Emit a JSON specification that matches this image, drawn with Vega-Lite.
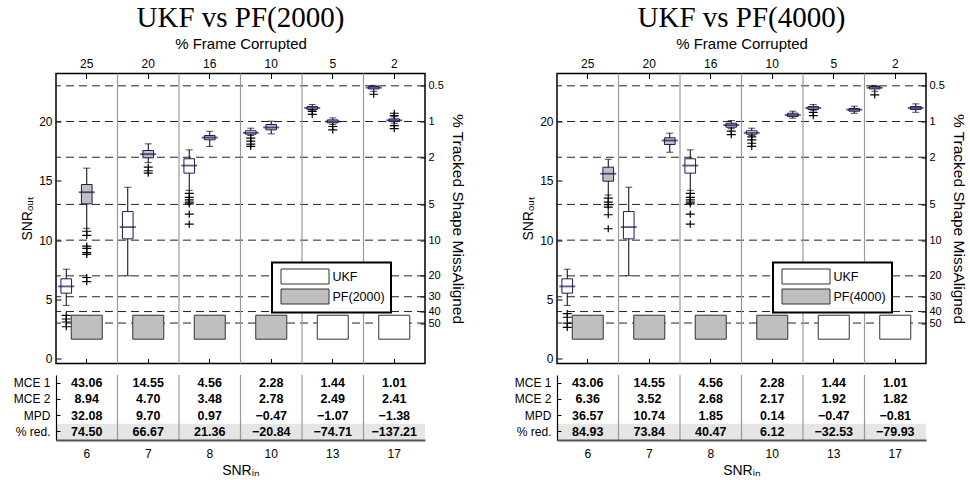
{
"$schema": "https://vega.github.io/schema/vega-lite/v6.json",
"background": "white",
"padding": {"left": 13, "top": 2.5, "right": 5, "bottom": 5},
"datasets": {
"levels": [{"pct":0.5},{"pct":1},{"pct":2},{"pct":5},{"pct":10},{"pct":20},{"pct":30},{"pct":40},{"pct":50}],
"cols2000": [{"snr":6,"frame":25,"method":"PF(2000)"},{"snr":7,"frame":20,"method":"PF(2000)"},{"snr":8,"frame":16,"method":"PF(2000)"},{"snr":10,"frame":10,"method":"PF(2000)"},{"snr":13,"frame":5,"method":"UKF"},{"snr":17,"frame":2,"method":"UKF"}],
"cols4000": [{"snr":6,"frame":25,"method":"PF(4000)"},{"snr":7,"frame":20,"method":"PF(4000)"},{"snr":8,"frame":16,"method":"PF(4000)"},{"snr":10,"frame":10,"method":"PF(4000)"},{"snr":13,"frame":5,"method":"UKF"},{"snr":17,"frame":2,"method":"UKF"}],
"boxes2000": [
{"snr":6,"method":"UKF","lo":4.5,"q1":5.53,"med":6.1,"q3":6.74,"hi":7.55},
{"snr":7,"method":"UKF","lo":7.0,"q1":10.11,"med":11.1,"q3":12.41,"hi":14.46},
{"snr":8,"method":"UKF","lo":14.2,"q1":15.65,"med":16.29,"q3":16.86,"hi":17.61},
{"snr":10,"method":"UKF","lo":18.82,"q1":18.93,"med":19.05,"q3":19.22,"hi":19.44},
{"snr":13,"method":"UKF","lo":20.95,"q1":21.02,"med":21.15,"q3":21.26,"hi":21.43},
{"snr":17,"method":"UKF","lo":22.55,"q1":22.75,"med":22.85,"q3":22.95,"hi":23.05},
{"snr":6,"method":"PF(2000)","lo":11.0,"q1":13.06,"med":14.04,"q3":14.69,"hi":16.07},
{"snr":7,"method":"PF(2000)","lo":16.55,"q1":16.94,"med":17.25,"q3":17.56,"hi":18.12},
{"snr":8,"method":"PF(2000)","lo":17.9,"q1":18.46,"med":18.65,"q3":18.82,"hi":19.18},
{"snr":10,"method":"PF(2000)","lo":18.96,"q1":19.3,"med":19.5,"q3":19.75,"hi":20.03},
{"snr":13,"method":"PF(2000)","lo":19.75,"q1":19.89,"med":20.0,"q3":20.14,"hi":20.31},
{"snr":17,"method":"PF(2000)","lo":19.85,"q1":20.0,"med":20.1,"q3":20.22,"hi":20.4}],
"boxes4000": [
{"snr":6,"method":"UKF","lo":4.5,"q1":5.53,"med":6.1,"q3":6.74,"hi":7.55},
{"snr":7,"method":"UKF","lo":7.0,"q1":10.11,"med":11.1,"q3":12.41,"hi":14.46},
{"snr":8,"method":"UKF","lo":14.2,"q1":15.65,"med":16.29,"q3":16.86,"hi":17.61},
{"snr":10,"method":"UKF","lo":18.82,"q1":18.93,"med":19.05,"q3":19.22,"hi":19.44},
{"snr":13,"method":"UKF","lo":20.95,"q1":21.02,"med":21.15,"q3":21.26,"hi":21.43},
{"snr":17,"method":"UKF","lo":22.55,"q1":22.75,"med":22.85,"q3":22.95,"hi":23.05},
{"snr":6,"method":"PF(4000)","lo":13.8,"q1":14.97,"med":15.6,"q3":16.15,"hi":16.82},
{"snr":7,"method":"PF(4000)","lo":17.41,"q1":18.06,"med":18.4,"q3":18.63,"hi":19.02},
{"snr":8,"method":"PF(4000)","lo":19.4,"q1":19.52,"med":19.7,"q3":19.86,"hi":20.08},
{"snr":10,"method":"PF(4000)","lo":20.28,"q1":20.42,"med":20.55,"q3":20.7,"hi":20.87},
{"snr":13,"method":"PF(4000)","lo":20.7,"q1":20.87,"med":21.0,"q3":21.1,"hi":21.29},
{"snr":17,"method":"PF(4000)","lo":20.78,"q1":21.01,"med":21.15,"q3":21.26,"hi":21.49}],
"out2000": [
{"snr":6,"method":"UKF","value":3.65},{"snr":6,"method":"UKF","value":3.35},{"snr":6,"method":"UKF","value":3.1},{"snr":6,"method":"UKF","value":2.7},
{"snr":8,"method":"UKF","value":13.95},{"snr":8,"method":"UKF","value":13.6},{"snr":8,"method":"UKF","value":13.4},{"snr":8,"method":"UKF","value":13.2},{"snr":8,"method":"UKF","value":13.05},{"snr":8,"method":"UKF","value":12.2},{"snr":8,"method":"UKF","value":11.35},
{"snr":10,"method":"UKF","value":18.6},{"snr":10,"method":"UKF","value":18.35},{"snr":10,"method":"UKF","value":18.1},{"snr":10,"method":"UKF","value":17.9},
{"snr":13,"method":"UKF","value":20.85},{"snr":13,"method":"UKF","value":20.6},
{"snr":17,"method":"UKF","value":22.3},
{"snr":6,"method":"PF(2000)","value":10.75},{"snr":6,"method":"PF(2000)","value":10.4},{"snr":6,"method":"PF(2000)","value":9.5},{"snr":6,"method":"PF(2000)","value":9.3},{"snr":6,"method":"PF(2000)","value":8.95},{"snr":6,"method":"PF(2000)","value":8.8},{"snr":6,"method":"PF(2000)","value":6.85},{"snr":6,"method":"PF(2000)","value":6.5},
{"snr":7,"method":"PF(2000)","value":16.15},{"snr":7,"method":"PF(2000)","value":15.85},{"snr":7,"method":"PF(2000)","value":15.65},
{"snr":13,"method":"PF(2000)","value":19.58},{"snr":13,"method":"PF(2000)","value":19.3},
{"snr":17,"method":"PF(2000)","value":20.7},{"snr":17,"method":"PF(2000)","value":20.5},{"snr":17,"method":"PF(2000)","value":19.65},{"snr":17,"method":"PF(2000)","value":19.4}],
"out4000": [
{"snr":6,"method":"UKF","value":3.8},{"snr":6,"method":"UKF","value":3.5},{"snr":6,"method":"UKF","value":3.0},{"snr":6,"method":"UKF","value":2.65},
{"snr":8,"method":"UKF","value":13.95},{"snr":8,"method":"UKF","value":13.6},{"snr":8,"method":"UKF","value":13.4},{"snr":8,"method":"UKF","value":13.2},{"snr":8,"method":"UKF","value":13.05},{"snr":8,"method":"UKF","value":12.2},{"snr":8,"method":"UKF","value":11.35},
{"snr":10,"method":"UKF","value":18.7},{"snr":10,"method":"UKF","value":18.45},{"snr":10,"method":"UKF","value":18.17},{"snr":10,"method":"UKF","value":17.9},
{"snr":13,"method":"UKF","value":20.78},{"snr":13,"method":"UKF","value":20.5},
{"snr":17,"method":"UKF","value":22.25},
{"snr":6,"method":"PF(4000)","value":13.54},{"snr":6,"method":"PF(4000)","value":13.2},{"snr":6,"method":"PF(4000)","value":13.0},{"snr":6,"method":"PF(4000)","value":12.78},{"snr":6,"method":"PF(4000)","value":12.14},{"snr":6,"method":"PF(4000)","value":10.96},
{"snr":8,"method":"PF(4000)","value":19.2},{"snr":8,"method":"PF(4000)","value":18.9}],
"tab2000": [
{"snr":6,"row":"MCE 1","value":43.06},{"snr":7,"row":"MCE 1","value":14.55},{"snr":8,"row":"MCE 1","value":4.56},{"snr":10,"row":"MCE 1","value":2.28},{"snr":13,"row":"MCE 1","value":1.44},{"snr":17,"row":"MCE 1","value":1.01},
{"snr":6,"row":"MCE 2","value":8.94},{"snr":7,"row":"MCE 2","value":4.70},{"snr":8,"row":"MCE 2","value":3.48},{"snr":10,"row":"MCE 2","value":2.78},{"snr":13,"row":"MCE 2","value":2.49},{"snr":17,"row":"MCE 2","value":2.41},
{"snr":6,"row":"MPD","value":32.08},{"snr":7,"row":"MPD","value":9.70},{"snr":8,"row":"MPD","value":0.97},{"snr":10,"row":"MPD","value":-0.47},{"snr":13,"row":"MPD","value":-1.07},{"snr":17,"row":"MPD","value":-1.38},
{"snr":6,"row":"% red.","value":74.50},{"snr":7,"row":"% red.","value":66.67},{"snr":8,"row":"% red.","value":21.36},{"snr":10,"row":"% red.","value":-20.84},{"snr":13,"row":"% red.","value":-74.71},{"snr":17,"row":"% red.","value":-137.21}],
"tab4000": [
{"snr":6,"row":"MCE 1","value":43.06},{"snr":7,"row":"MCE 1","value":14.55},{"snr":8,"row":"MCE 1","value":4.56},{"snr":10,"row":"MCE 1","value":2.28},{"snr":13,"row":"MCE 1","value":1.44},{"snr":17,"row":"MCE 1","value":1.01},
{"snr":6,"row":"MCE 2","value":6.36},{"snr":7,"row":"MCE 2","value":3.52},{"snr":8,"row":"MCE 2","value":2.68},{"snr":10,"row":"MCE 2","value":2.17},{"snr":13,"row":"MCE 2","value":1.92},{"snr":17,"row":"MCE 2","value":1.82},
{"snr":6,"row":"MPD","value":36.57},{"snr":7,"row":"MPD","value":10.74},{"snr":8,"row":"MPD","value":1.85},{"snr":10,"row":"MPD","value":0.14},{"snr":13,"row":"MPD","value":-0.47},{"snr":17,"row":"MPD","value":-0.81},
{"snr":6,"row":"% red.","value":84.93},{"snr":7,"row":"% red.","value":73.84},{"snr":8,"row":"% red.","value":40.47},{"snr":10,"row":"% red.","value":6.12},{"snr":13,"row":"% red.","value":-32.53},{"snr":17,"row":"% red.","value":-79.93}]
},
"hconcat": [
{"vconcat": [
{"width": 369, "height": 290,
 "title": {"text": "UKF vs PF(2000)"},
 "layer": [
  {"data": {"name": "levels"}, "mark": {"type": "rule", "strokeDash": [8, 5], "color": "#222", "strokeWidth": 1},
   "encoding": {"y": {"field": "pct", "type": "quantitative", "scale": {"type": "log", "domain": [0.3936, 109.65], "reverse": true, "nice": false}, "axis": {"orient": "right", "values": [0.5,1,2,5,10,20,30,40,50], "format": "~g", "labelOverlap": false, "labelFontSize": 11, "title": "% Tracked Shape MissAligned", "titleFontSize": 15.5, "tickSize": -5, "labelPadding": 8, "titlePadding": 6}}}},
  {"data": {"name": "boxes2000"},
   "encoding": {
    "x": {"field": "snr", "type": "ordinal", "scale": {"type": "band", "paddingInner": 0, "paddingOuter": 0}, "axis": {"orient": "bottom", "labels": false, "title": null, "tickSize": -5}},
    "xOffset": {"field": "method", "type": "nominal", "sort": ["UKF", "PF(2000)"], "scale": {"paddingInner": 0.48, "paddingOuter": 0.24}}},
   "layer": [
    {"mark": {"type": "rule", "color": "black", "strokeWidth": 1}, "encoding": {"y": {"field": "lo", "type": "quantitative", "scale": {"domain": [-0.4, 24.05], "nice": false, "zero": false}, "axis": {"orient": "left", "values": [0,5,10,15,20], "title": "SNRₒᵤₜ", "tickSize": -5, "labelPadding": 9, "titlePadding": 4}}, "y2": {"field": "hi"}}},
    {"mark": {"type": "bar", "stroke": "#1a1a60", "strokeWidth": 1}, "encoding": {"y": {"field": "q1", "type": "quantitative"}, "y2": {"field": "q3"}, "fill": {"field": "method", "type": "nominal", "scale": {"domain": ["UKF", "PF(2000)"], "range": ["white", "#bfbfbf"]}, "legend": {"title": null}}}},
    {"mark": {"type": "tick", "color": "#15154a", "thickness": 1.8, "size": 16}, "encoding": {"y": {"field": "med", "type": "quantitative"}}},
    {"mark": {"type": "tick", "color": "black", "thickness": 1, "size": 7}, "encoding": {"y": {"field": "lo", "type": "quantitative"}}},
    {"mark": {"type": "tick", "color": "black", "thickness": 1, "size": 7}, "encoding": {"y": {"field": "hi", "type": "quantitative"}}},
    {"data": {"name": "out2000"}, "mark": {"type": "point", "shape": "M-1,0H1M0,-0.8V0.8", "size": 81, "filled": false, "color": "black", "strokeWidth": 1.2, "opacity": 1}, "encoding": {"y": {"field": "value", "type": "quantitative"}}}
   ]},
  {"data": {"name": "cols2000"},
   "layer": [
    {"transform": [{"filter": "datum.frame != 25"}], "mark": {"type": "rule", "color": "#999", "strokeWidth": 1.2}, "encoding": {"x": {"field": "frame", "type": "ordinal", "sort": "descending", "bandPosition": 0}}},
    {"mark": {"type": "bar", "size": 31, "stroke": "#333", "strokeWidth": 1}, "encoding": {
      "x": {"field": "frame", "type": "ordinal", "sort": "descending", "scale": {"type": "band", "paddingInner": 0, "paddingOuter": 0}, "axis": {"orient": "top", "title": "% Frame Corrupted", "titleFontSize": 15, "tickSize": -5, "labelBaseline": "bottom", "labelPadding": 8, "titlePadding": 6}},
      "y": {"datum": 1.65, "type": "quantitative", "scale": {"domain": [-0.4, 24.05], "nice": false, "zero": false}, "axis": null},
      "y2": {"datum": 3.67},
      "fill": {"field": "method", "type": "nominal", "legend": {"title": null}}}}
   ]}
 ],
 "resolve": {"scale": {"x": "independent", "y": "independent"}}
},
{"width": 369, "height": 65,
 "view": {"stroke": null},
 "data": {"name": "tab2000"},
 "encoding": {"x": {"field": "snr", "type": "ordinal", "scale": {"type": "band", "paddingInner": 0, "paddingOuter": 0}, "axis": {"orient": "bottom", "title": "SNRᵢₙ", "labelPadding": 8, "ticks": false, "domain": true, "domainColor": "#555", "domainWidth": 2, "titlePadding": 4}}},
 "layer": [
  {"transform": [{"filter": "datum.row == '% red.'"}], "mark": {"type": "rect", "color": "#e5e5e5"},
   "encoding": {"y": {"field": "row", "type": "ordinal", "sort": ["MCE 1", "MCE 2", "MPD", "% red."], "scale": {"type": "band", "paddingInner": 0, "paddingOuter": 0}, "axis": {"orient": "left", "title": null, "tickSize": -4, "labelPadding": 10, "domain": true, "domainColor": "black", "domainWidth": 1.2}}}},
  {"data": {"name": "cols2000"}, "transform": [{"filter": "datum.snr != 6"}], "mark": {"type": "rule", "color": "#999", "strokeWidth": 1.2}, "encoding": {"x": {"field": "snr", "type": "ordinal", "bandPosition": 0}}},
  {"mark": {"type": "text", "fontWeight": "bold", "fontSize": 12.5, "color": "black"},
   "encoding": {"y": {"field": "row", "type": "ordinal", "sort": ["MCE 1", "MCE 2", "MPD", "% red."]}, "text": {"field": "value", "type": "quantitative", "format": ".2f"}}}
 ]
}
], "spacing": 7.5, "resolve": {"legend": {"fill": "independent"}}},
{"vconcat": [
{"width": 369, "height": 290,
 "title": {"text": "UKF vs PF(4000)"},
 "layer": [
  {"data": {"name": "levels"}, "mark": {"type": "rule", "strokeDash": [8, 5], "color": "#222", "strokeWidth": 1},
   "encoding": {"y": {"field": "pct", "type": "quantitative", "scale": {"type": "log", "domain": [0.3936, 109.65], "reverse": true, "nice": false}, "axis": {"orient": "right", "values": [0.5,1,2,5,10,20,30,40,50], "format": "~g", "labelOverlap": false, "labelFontSize": 11, "title": "% Tracked Shape MissAligned", "titleFontSize": 15.5, "tickSize": -5, "labelPadding": 8, "titlePadding": 6}}}},
  {"data": {"name": "boxes4000"},
   "encoding": {
    "x": {"field": "snr", "type": "ordinal", "scale": {"type": "band", "paddingInner": 0, "paddingOuter": 0}, "axis": {"orient": "bottom", "labels": false, "title": null, "tickSize": -5}},
    "xOffset": {"field": "method", "type": "nominal", "sort": ["UKF", "PF(4000)"], "scale": {"paddingInner": 0.48, "paddingOuter": 0.24}}},
   "layer": [
    {"mark": {"type": "rule", "color": "black", "strokeWidth": 1}, "encoding": {"y": {"field": "lo", "type": "quantitative", "scale": {"domain": [-0.4, 24.05], "nice": false, "zero": false}, "axis": {"orient": "left", "values": [0,5,10,15,20], "title": "SNRₒᵤₜ", "tickSize": -5, "labelPadding": 9, "titlePadding": 4}}, "y2": {"field": "hi"}}},
    {"mark": {"type": "bar", "stroke": "#1a1a60", "strokeWidth": 1}, "encoding": {"y": {"field": "q1", "type": "quantitative"}, "y2": {"field": "q3"}, "fill": {"field": "method", "type": "nominal", "scale": {"domain": ["UKF", "PF(4000)"], "range": ["white", "#bfbfbf"]}, "legend": {"title": null}}}},
    {"mark": {"type": "tick", "color": "#15154a", "thickness": 1.8, "size": 16}, "encoding": {"y": {"field": "med", "type": "quantitative"}}},
    {"mark": {"type": "tick", "color": "black", "thickness": 1, "size": 7}, "encoding": {"y": {"field": "lo", "type": "quantitative"}}},
    {"mark": {"type": "tick", "color": "black", "thickness": 1, "size": 7}, "encoding": {"y": {"field": "hi", "type": "quantitative"}}},
    {"data": {"name": "out4000"}, "mark": {"type": "point", "shape": "M-1,0H1M0,-0.8V0.8", "size": 81, "filled": false, "color": "black", "strokeWidth": 1.2, "opacity": 1}, "encoding": {"y": {"field": "value", "type": "quantitative"}}}
   ]},
  {"data": {"name": "cols4000"},
   "layer": [
    {"transform": [{"filter": "datum.frame != 25"}], "mark": {"type": "rule", "color": "#999", "strokeWidth": 1.2}, "encoding": {"x": {"field": "frame", "type": "ordinal", "sort": "descending", "bandPosition": 0}}},
    {"mark": {"type": "bar", "size": 31, "stroke": "#333", "strokeWidth": 1}, "encoding": {
      "x": {"field": "frame", "type": "ordinal", "sort": "descending", "scale": {"type": "band", "paddingInner": 0, "paddingOuter": 0}, "axis": {"orient": "top", "title": "% Frame Corrupted", "titleFontSize": 15, "tickSize": -5, "labelBaseline": "bottom", "labelPadding": 8, "titlePadding": 6}},
      "y": {"datum": 1.65, "type": "quantitative", "scale": {"domain": [-0.4, 24.05], "nice": false, "zero": false}, "axis": null},
      "y2": {"datum": 3.67},
      "fill": {"field": "method", "type": "nominal", "legend": {"title": null}}}}
   ]}
 ],
 "resolve": {"scale": {"x": "independent", "y": "independent"}}
},
{"width": 369, "height": 65,
 "view": {"stroke": null},
 "data": {"name": "tab4000"},
 "encoding": {"x": {"field": "snr", "type": "ordinal", "scale": {"type": "band", "paddingInner": 0, "paddingOuter": 0}, "axis": {"orient": "bottom", "title": "SNRᵢₙ", "labelPadding": 8, "ticks": false, "domain": true, "domainColor": "#555", "domainWidth": 2, "titlePadding": 4}}},
 "layer": [
  {"transform": [{"filter": "datum.row == '% red.'"}], "mark": {"type": "rect", "color": "#e5e5e5"},
   "encoding": {"y": {"field": "row", "type": "ordinal", "sort": ["MCE 1", "MCE 2", "MPD", "% red."], "scale": {"type": "band", "paddingInner": 0, "paddingOuter": 0}, "axis": {"orient": "left", "title": null, "tickSize": -4, "labelPadding": 10, "domain": true, "domainColor": "black", "domainWidth": 1.2}}}},
  {"data": {"name": "cols4000"}, "transform": [{"filter": "datum.snr != 6"}], "mark": {"type": "rule", "color": "#999", "strokeWidth": 1.2}, "encoding": {"x": {"field": "snr", "type": "ordinal", "bandPosition": 0}}},
  {"mark": {"type": "text", "fontWeight": "bold", "fontSize": 12.5, "color": "black"},
   "encoding": {"y": {"field": "row", "type": "ordinal", "sort": ["MCE 1", "MCE 2", "MPD", "% red."]}, "text": {"field": "value", "type": "quantitative", "format": ".2f"}}}
 ]
}
], "spacing": 7.5, "resolve": {"legend": {"fill": "independent"}}}
],
"spacing": 48,
"resolve": {"scale": {"fill": "independent"}},
"config": {
 "font": "Liberation Sans",
 "view": {"stroke": "black", "strokeWidth": 1.5},
 "axis": {"grid": false, "domain": false, "labelFontSize": 12, "labelColor": "black", "tickColor": "black", "titleColor": "black", "titleFontWeight": "normal", "titleFontSize": 14, "labelAngle": 0},
 "title": {"font": "Liberation Serif", "fontSize": 29, "fontWeight": "normal", "color": "black", "offset": 4},
 "legend": {"orient": "none", "legendX": 216, "legendY": 189, "symbolType": "M-3.2,-1H3.2V1H-3.2Z", "symbolSize": 225, "symbolOffset": 19, "symbolStrokeColor": "#333", "symbolStrokeWidth": 1, "symbolOpacity": 1, "labelFontSize": 12.5, "labelColor": "black", "labelOffset": 19.5, "padding": 6, "rowPadding": 0, "strokeColor": "black", "fillColor": "white", "strokeWidth": 2}
}
}
